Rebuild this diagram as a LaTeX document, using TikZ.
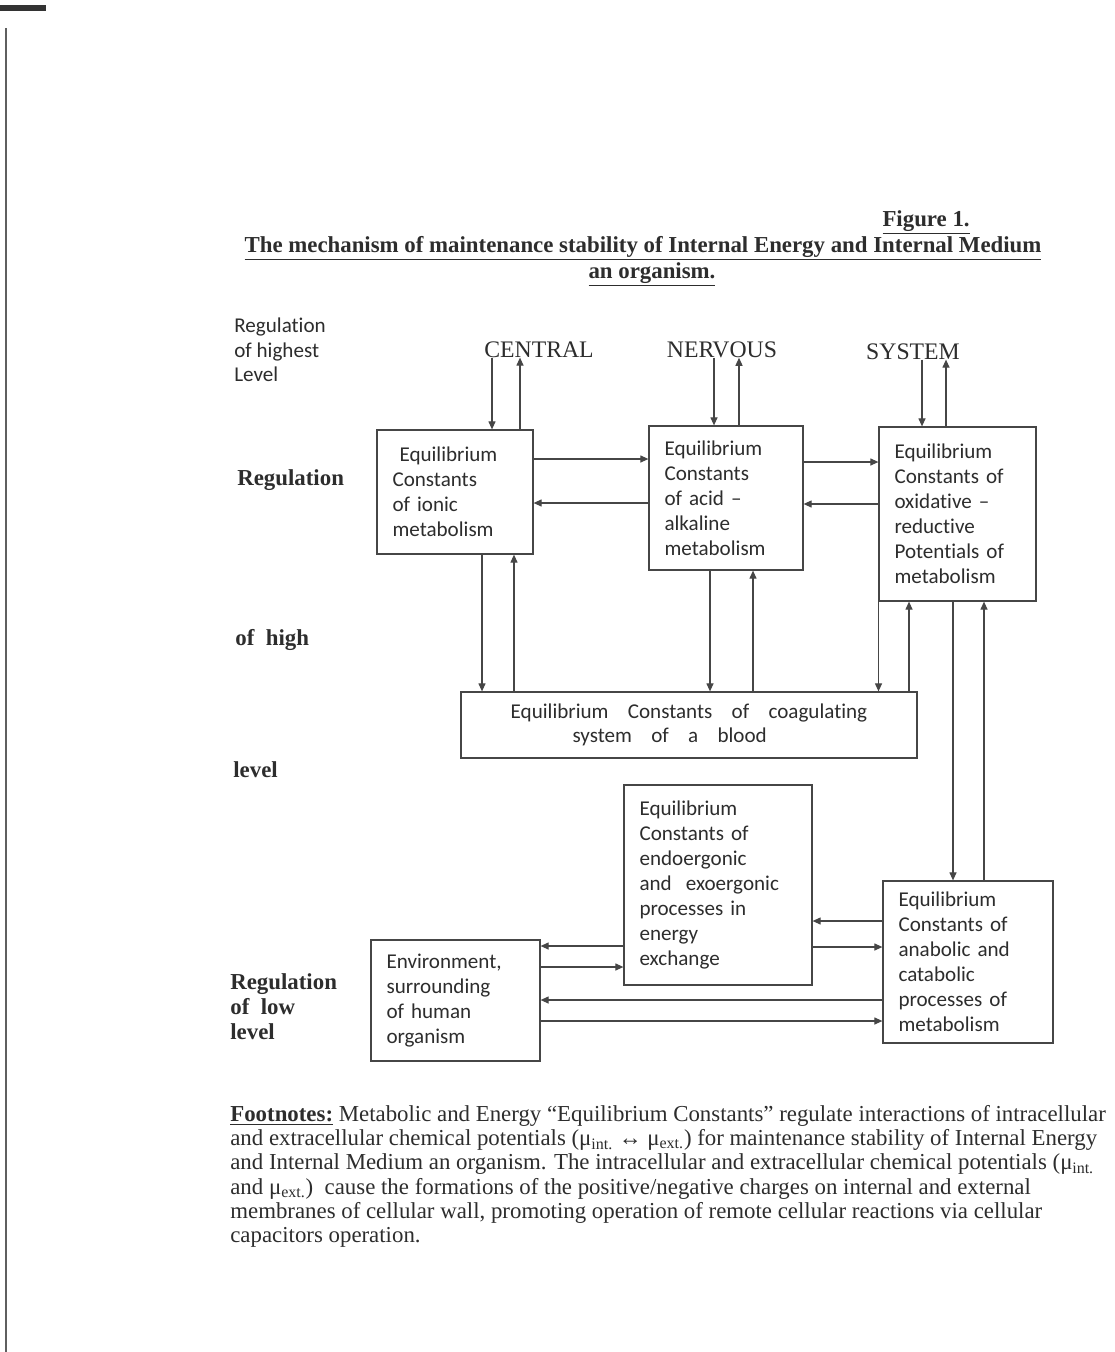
\documentclass[tikz,border=0pt]{standalone}
\usepackage{fontspec}
\setmainfont{Liberation Serif}
\newfontfamily\calibri[Ligatures={TeX,NoCommon}]{Carlito}
\usetikzlibrary{arrows.meta, calc}
\definecolor{scanink}{RGB}{45,45,45}
\definecolor{scanline}{RGB}{70,70,70}
\definecolor{scanedge}{RGB}{95,95,95}
\tikzset{
  %% ---- boxes ----
  eqbox/.style 2 args = {rectangle, draw=scanline, line width=0.7pt,
                   text=scanink, align=left, inner xsep=0.31cm,
                   text width=#1, minimum height=#2,
                   font=\calibri\fontsize{12}{14.2}\selectfont},
  bloodbox/.style = {rectangle, draw=scanline, line width=0.7pt,
                   text=scanink, align=center, inner xsep=0.31cm,
                   text width=8.5cm, minimum height=1.32cm,
                   font=\calibri\fontsize{12}{13.7}\selectfont},
  %% ---- texts ----
  lvltext/.style  = {inner sep=0, align=left, text=scanink,
                   font=\calibri\fontsize{12}{13.7}\selectfont},
  lvlbold/.style  = {inner sep=0, align=left, text=scanink,
                   font=\bfseries\fontsize{13}{14.2}\selectfont},
  cnslabel/.style = {inner sep=0, text=scanink,
                   font=\fontsize{13.5}{16}\selectfont},
  titletext/.style= {inner sep=0, text=scanink,
                   font=\bfseries\fontsize{13}{15}\selectfont},
  notetext/.style = {inner sep=0, align=left, text=scanink,
                   font=\fontsize{13}{13.8}\selectfont},
  %% ---- arrows ----
  arr/.style      = {-{Triangle[length=4.6pt,width=4pt]}, line width=0.7pt,
                   draw=scanline},
}

\begin{document}
\begin{tikzpicture}[x=0.02cm, y=-0.02cm]

  %% page
  \fill[white] (0,0) rectangle (1115,1352);
  \useasboundingbox (0,0) rectangle (1115,1352);
  \draw[scanedge, line width=1.4pt] (6,28) -- (6,1352);
  \fill[black!80] (0,5) rectangle (46,11);

  %% Title
  \node[titletext, anchor=base east] (fig) at (970,226) {\underline{Figure 1.}};
  \node[titletext, anchor=base] (title) at (643,252)
    {\underline{The mechanism of maintenance stability of Internal Energy and Internal Medium}};
  \node[titletext, anchor=base] (title2) at (652,278) {\underline{an organism.}};

  %% Levels on the left
  \node[lvltext, anchor=north west] (lvlhighest) at (234,318)
    {Regulation\\of highest\\Level};
  \node[lvlbold, anchor=base west] (lvlreg) at (237,485) {Regulation};
  \node[lvlbold, anchor=base west] (lvlhigh) at (235,645) {of\ \ high};
  \node[lvlbold, anchor=base west] (lvllevel) at (233,777) {level};
  \node[lvlbold, anchor=north west] (lvllow) at (230,973)
    {Regulation\\of\ \ low\\level};

  %% Central nervous system
  \node[cnslabel, anchor=base] (central) at (539,357) {CENTRAL};
  \node[cnslabel, anchor=base] (nervous) at (722,357) {NERVOUS};
  \node[cnslabel, anchor=base] (system)  at (913,359) {SYSTEM};

  %% Boxes of high level
  \node[eqbox={2.50cm}{2.48cm}] (ionic) at (455,492)
    {\hspace*{0.14cm}Equilibrium\\Constants\\of ionic\\metabolism};
  \node[eqbox={2.46cm}{2.88cm}] (acid) at (726,498)
    {Equilibrium\\Constants\\of acid –\\alkaline\\metabolism};
  \node[eqbox={2.52cm}{3.48cm}] (oxid) at (957.5,514)
    {Equilibrium\\Constants of\\oxidative –\\reductive\\Potentials of\\metabolism};
  \node[bloodbox] (blood) at (689,725)
    {Equilibrium\hspace{11pt}Constants\hspace{11pt}of\hspace{11pt}coagulating\\
     system\hspace{11pt}of\hspace{11pt}a\hspace{11pt}blood\hspace*{22pt}};

  %% Boxes of low level
  \node[eqbox={3.14cm}{4.0cm}] (endo) at (718,885)
    {Equilibrium\\Constants of\\endoergonic\\and\ \ exoergonic\\processes in\\energy\\exchange};
  \node[eqbox={2.78cm}{3.24cm}] (anab) at (968,962)
    {Equilibrium\\Constants of\\anabolic and\\catabolic\\processes of\\metabolism};
  \node[eqbox={2.76cm}{2.42cm}] (env) at (455.5,1000.5)
    {Environment,\\surrounding\\of human\\organism};

  %% CNS <-> top boxes
  \draw[arr] ($(ionic.north |- central.south)+(37,0)$) -- ($(ionic.north)+(37,0)$);
  \draw[arr] ($(ionic.north)+(65,0)$) -- ($(ionic.north |- central.south)+(65,0)$);
  \draw[arr] ($(acid.north |- nervous.south)+(-12,0)$) -- ($(acid.north)+(-12,0)$);
  \draw[arr] ($(acid.north)+(13,0)$) -- ($(acid.north |- nervous.south)+(13,0)$);
  \draw[arr] ($(oxid.north |- system.south)+(-35.5,0)$) -- ($(oxid.north)+(-35.5,0)$);
  \draw[arr] ($(oxid.north)+(-11.5,0)$) -- ($(oxid.north |- system.south)+(-11.5,0)$);

  %% between top boxes
  \draw[arr] ($(ionic.east)+(0,-33)$) -- ($(acid.west |- ionic.east)+(0,-33)$);
  \draw[arr] ($(acid.west |- ionic.east)+(0,11)$) -- ($(ionic.east)+(0,11)$);
  \draw[arr] ($(acid.east)+(0,-36)$) -- ($(oxid.west |- acid.east)+(0,-36)$);
  \draw[arr] ($(oxid.west |- acid.east)+(0,6)$) -- ($(acid.east)+(0,6)$);

  %% top boxes <-> blood
  \draw[arr] ($(ionic.south)+(27,0)$) -- ($(blood.north -| ionic.south)+(27,0)$);
  \draw[arr] ($(blood.north -| ionic.south)+(59,0)$) -- ($(ionic.south)+(59,0)$);
  \draw[arr] ($(acid.south)+(-16,0)$) -- ($(blood.north -| acid.south)+(-16,0)$);
  \draw[arr] ($(blood.north -| acid.south)+(27,0)$) -- ($(acid.south)+(27,0)$);
  \draw[arr] ($(oxid.south)+(-79,0)$) -- ($(blood.north -| oxid.south)+(-79,0)$);
  \draw[arr] ($(blood.north -| oxid.south)+(-48.5,0)$) -- ($(oxid.south)+(-48.5,0)$);

  %% oxidative <-> anabolic
  \draw[arr] ($(oxid.south)+(-4.5,0)$) -- ($(anab.north -| oxid.south)+(-4.5,0)$);
  \draw[arr] ($(anab.north -| oxid.south)+(26.5,0)$) -- ($(oxid.south)+(26.5,0)$);

  %% low level
  \draw[arr] ($(anab.west)+(0,-41)$) -- ($(endo.east |- anab.west)+(0,-41)$);
  \draw[arr] ($(endo.east |- anab.west)+(0,-15)$) -- ($(anab.west)+(0,-15)$);
  \draw[arr] ($(endo.west)+(0,61)$) -- ($(env.east |- endo.west)+(0,61)$);
  \draw[arr] ($(env.east |- endo.west)+(0,82)$) -- ($(endo.west)+(0,82)$);
  \draw[arr] ($(anab.west)+(0,38)$) -- ($(env.east |- anab.west)+(0,38)$);
  \draw[arr] ($(env.east |- anab.west)+(0,59)$) -- ($(anab.west)+(0,59)$);

  %% Footnotes
  \node[notetext, anchor=north west] (notes) at (230,1105)
    {\underline{\textbf{Footnotes:}} Metabolic and Energy “Equilibrium Constants” regulate interactions of intracellular\\
     and extracellular chemical potentials (μ\textsubscript{int.} ↔ μ\textsubscript{ext.}) for maintenance stability of Internal Energy\\
     and Internal Medium an organism. The intracellular and extracellular chemical potentials (μ\textsubscript{int.}\\
     and μ\textsubscript{ext.})\ \ cause the formations of the positive/negative charges on internal and external\\
     membranes of cellular wall, promoting operation of remote cellular reactions via cellular\\
     capacitors operation.};

\end{tikzpicture}
\end{document}
